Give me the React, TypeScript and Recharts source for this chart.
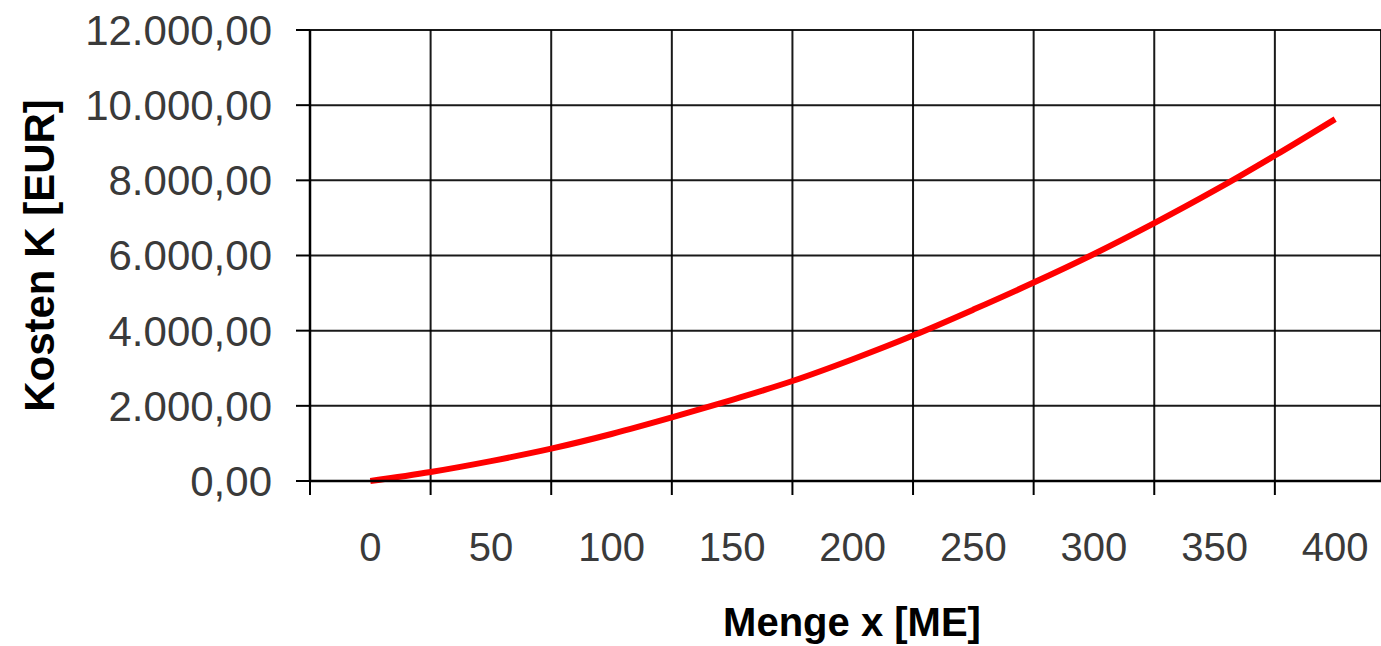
import React from "react";
import {
  LineChart,
  Line,
  XAxis,
  YAxis,
  CartesianGrid,
} from "recharts";

// Menge x [ME] and the matching Kosten K [EUR]
const mengen = [0, 25, 50, 75, 100, 125, 150, 175, 200, 225, 250, 275, 300, 325, 350, 375, 400];
const kosten = [0, 240, 530, 860, 1250, 1690, 2160, 2660, 3240, 3870, 4560, 5280, 6040, 6860, 7730, 8660, 9630];

// grid lines sit between the labelled categories
const gridTicks = [-25, 25, 75, 125, 175, 225, 275, 325, 375];
const labelTicks = [0, 50, 100, 150, 200, 250, 300, 350, 400];
const yTicks = [0, 2000, 4000, 6000, 8000, 10000, 12000];

const data = mengen.map((x, i) => ({ x, k: kosten[i] }));

const FONT = "'Liberation Sans', Arial, sans-serif";
const X_DOMAIN: [number, number] = [-25, 419];

const formatEur = (v: number) => {
  const [int, dec] = v.toFixed(2).split(".");
  return int.replace(/\B(?=(\d{3})+(?!\d))/g, ".") + "," + dec;
};

const NoLabel = () => <g />;

const YTitle = (props: any) => {
  const { viewBox } = props;
  const cy = viewBox.y + viewBox.height / 2;
  return (
    <text
      x={54}
      y={cy}
      transform={`rotate(-90, 54, ${cy})`}
      textAnchor="middle"
      fontFamily={FONT}
      fontWeight="bold"
      fontSize={42}
      fill="#000"
    >
      Kosten K [EUR]
    </text>
  );
};

const XTitle = () => (
  <text
    x={852}
    y={636}
    textAnchor="middle"
    fontFamily={FONT}
    fontWeight="bold"
    fontSize={40}
    fill="#000"
  >
    Menge x [ME]
  </text>
);

export default function App() {
  return (
    <div style={{ position: "absolute", left: 0, top: 0, background: "#fff" }}>
      <LineChart
        width={1381}
        height={646}
        data={data}
        margin={{ top: 30, right: 0, bottom: 0, left: 0 }}
      >
        <CartesianGrid
          xAxisId="grid"
          stroke="#000"
          strokeWidth={2}
          strokeOpacity={0.9}
        />
        <XAxis
          xAxisId="grid"
          dataKey="x"
          type="number"
          domain={X_DOMAIN}
          ticks={gridTicks}
          interval={0}
          allowDataOverflow
          tick={NoLabel}
          tickSize={14}
          height={1}
          axisLine={{ stroke: "#000", strokeWidth: 2.5 }}
          tickLine={{ stroke: "#000", strokeWidth: 2 }}
        />
        <XAxis
          xAxisId="lbl"
          dataKey="x"
          type="number"
          domain={X_DOMAIN}
          ticks={labelTicks}
          interval={0}
          allowDataOverflow
          height={164}
          tickSize={14}
          tickMargin={37}
          axisLine={false}
          tickLine={false}
          tick={{ fontFamily: FONT, fontSize: 40, fill: "#3a3a3a" }}
          label={<XTitle />}
        />
        <YAxis
          domain={[0, 12000]}
          ticks={yTicks}
          width={310}
          tickSize={14}
          tickMargin={24}
          tickFormatter={formatEur}
          axisLine={{ stroke: "#000", strokeWidth: 2.5 }}
          tickLine={{ stroke: "#000", strokeWidth: 2 }}
          tick={{ fontFamily: FONT, fontSize: 42, fill: "#3a3a3a" }}
          label={<YTitle />}
        />
        <Line
          xAxisId="grid"
          dataKey="k"
          type="monotone"
          stroke="#ff0000"
          strokeWidth={6}
          dot={false}
          isAnimationActive={false}
        />
      </LineChart>
    </div>
  );
}
